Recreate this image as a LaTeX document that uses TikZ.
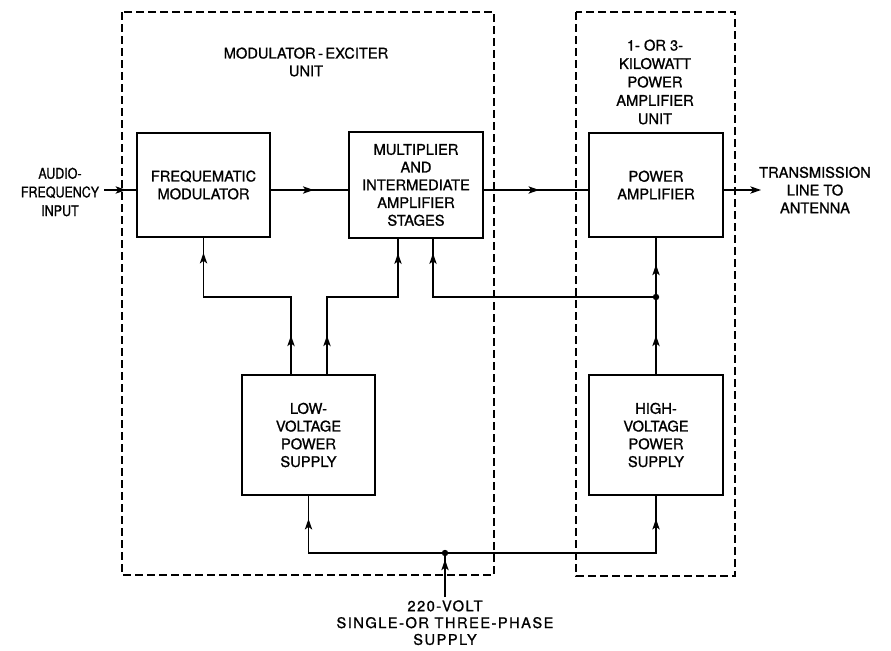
\documentclass[tikz,border=0pt]{standalone}
\usepackage{fontspec}
\setmainfont{TeX Gyre Heros}[FakeBold=1]
\usetikzlibrary{arrows.meta,decorations.markings,calc}
\begin{document}
\begin{tikzpicture}[x=0.75pt,y=-0.75pt,
  txt/.style={font=\fontsize{11}{13.3}\selectfont, align=center, inner sep=0pt},
  blk/.style={txt, draw, line width=1.6pt, minimum width=100pt},
  conn/.style={line width=1pt},
  dashbox/.style={line width=1pt, dash pattern=on 6pt off 3pt},
  marr/.style={postaction={decorate}, decoration={markings,
     mark=at position #1 with {\arrow{Stealth[length=8pt,width=5.5pt,inset=2pt]}}}},
  dot/.style={fill, radius=2.4pt}]
\useasboundingbox (0,0) rectangle (891,650);
% units
\draw[dashbox] (122,12) rectangle (494,575);
\draw[dashbox] (576,12) rectangle (735,576);
\node[txt] (mexu) at (306,62) {MODULATOR\,-\,EXCITER\\UNIT};
\node[txt, font=\fontsize{11}{13.8}\selectfont] (pau) at (655,82) {1- OR 3-\\KILOWATT\\POWER\\AMPLIFIER\\UNIT};
% blocks
\node[blk, minimum height=78pt] (mod) at (203.5,185) {FREQUEMATIC\\MODULATOR};
\node[blk, minimum height=79pt] (mult) at (416,185) {MULTIPLIER\\AND\\INTERMEDIATE\\AMPLIFIER\\STAGES};
\node[blk, minimum height=78pt] (pa) at (656,185) {POWER\\AMPLIFIER};
\node[blk, minimum height=90pt] (lv) at (308.5,435) {LOW-\\VOLTAGE\\POWER\\SUPPLY};
\node[blk, minimum height=90pt] (hv) at (656,435) {HIGH-\\VOLTAGE\\POWER\\SUPPLY};
% outside labels
\node[txt, font=\fontsize{11}{14}\selectfont\addfontfeature{FakeStretch=0.85}] (audio) at (60,192) {AUDIO-\\FREQUENCY\\INPUT};
\node[txt] (trans) at (815,190) {TRANSMISSION\\LINE TO\\ANTENNA};
\node[txt, anchor=north, font=\fontsize{11}{12.6}\selectfont\addfontfeature{LetterSpace=10}] (supply) at (445,600) {220-VOLT\\SINGLE-OR THREE-PHASE\\SUPPLY};
% coordinates
\coordinate (sig) at (0,190);
\coordinate (bus) at (0,297);
\coordinate (bus2) at (0,553);
\coordinate (lvA) at ($(lv.north)+(-17.5,0)$);
\coordinate (lvB) at ($(lv.north)+(18.5,0)$);
\coordinate (multA) at ($(mult.south)+(-18,0)$);
\coordinate (multB) at ($(mult.south)+(17,0)$);
\coordinate (j1) at (hv.north |- bus);
\coordinate (j2) at (445,553);
\coordinate (tout) at (761,190);
\coordinate (ain) at (104,190);
\coordinate (sup) at (445,597);
% signal path
\draw[conn, marr=0.7] (ain) -- (mod.west |- sig);
\draw[conn, marr=0.55] (mod.east |- sig) -- (mult.west |- sig);
\draw[conn, marr=0.53] (mult.east |- sig) -- (pa.west |- sig);
\draw[conn, -{Stealth[length=8pt,width=5.5pt,inset=2pt]}] (pa.east |- sig) -- (tout);
% low voltage distribution
\draw[conn] (lvA) |- (mod.south |- bus) -- (mod.south);
\draw[conn, marr=0.5] (lvA) -- (lvA |- bus);
\draw[conn, marr=0.75] (mod.south |- bus) -- (mod.south);
\draw[conn] (lvB) |- (multA |- bus) -- (multA);
\draw[conn, marr=0.5] (lvB) -- (lvB |- bus);
\draw[conn, marr=0.75] (multA |- bus) -- (multA);
% high voltage distribution
\draw[conn, marr=0.5] (hv.north) -- (j1);
\draw[conn, marr=0.55] (j1) -- (pa.south);
\draw[conn] (j1) -- (multB |- bus) -- (multB);
\draw[conn, marr=0.75] (multB |- bus) -- (multB);
\fill[dot] (j1) circle;
% mains
\draw[conn] (lv.south) |- (j2) -| (hv.south);
\draw[conn, marr=0.6] (lv.south |- bus2) -- (lv.south);
\draw[conn, marr=0.6] (hv.south |- bus2) -- (hv.south);
\draw[conn, marr=0.85] (sup) -- (j2);
\fill[dot] (j2) circle;
\end{tikzpicture}
\end{document}
